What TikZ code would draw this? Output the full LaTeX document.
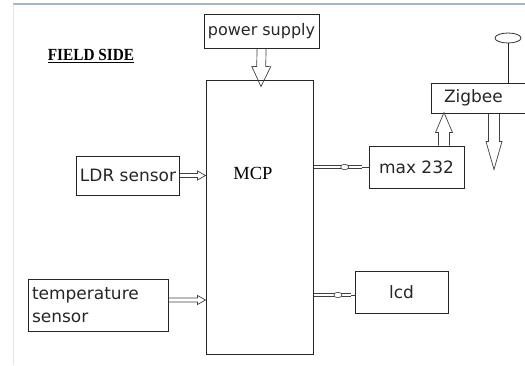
\documentclass[tikz,border=0pt]{standalone}
\usepackage{fontspec}
\newfontfamily\boxfont{DejaVu Sans}
\newfontfamily\mcpfont{Liberation Serif}
\usetikzlibrary{positioning,calc,shapes.geometric}
\definecolor{edge}{RGB}{165,180,200}

% hollow block arrow: start, tip, shaft half width, head half width, head length
\newcommand{\blockarrow}[5]{%
  \coordinate (ba) at ($(#2)!#5!(#1)$);
  \draw[hollow] ($(#1)!#3!90:(#2)$) -- ($(ba)!#3!90:(#2)$) -- ($(ba)!#4!90:(#2)$) -- (#2)
    -- ($(ba)!#4!-90:(#2)$) -- ($(ba)!#3!-90:(#2)$) -- ($(#1)!#3!-90:(#2)$);}

\begin{document}
\begin{tikzpicture}[x=1pt, y=-1pt,
    box/.style={rectangle, draw=black!85, line width=1pt, inner sep=3pt, text=black!85,
      font=\boxfont\fontsize{17}{23}\selectfont},
    hollow/.style={draw=black!75, line width=0.7pt, line join=miter},
    pipe/.style={draw=black!75, double=white, double distance=2pt, line width=0.6pt},
    bulb/.style={ellipse, draw=black!75, line width=0.6pt, fill=white, minimum width=8pt,
      minimum height=5.5pt, inner sep=0pt}
]
    \useasboundingbox (0,0) rectangle (525,365);
    \clip (0,0) rectangle (525,365);
    \draw[edge, line width=1.2pt] (13,4) -- (525,4);
    \draw[black!10, line width=0.8pt] (13,4) -- (13,365);

    \node[box, minimum width=115pt, minimum height=34pt, font=\boxfont\fontsize{16}{20}\selectfont] (ps) at (261.5,31) {power supply};
    \node[box, minimum width=107pt, minimum height=274pt] (mcp) at (259.5,217) {};
    \node[anchor=base, inner sep=0pt, font=\mcpfont\fontsize{18.5}{20}\selectfont] (mcplabel) at (253,179) {MCP};
    \node[anchor=base, inner sep=0pt, font=\mcpfont\bfseries\fontsize{17}{17}\selectfont] (field) at (91,60) {\scalebox{0.9}[1]{FIELD SIDE}};
    \draw[line width=1.4pt] ($(field.base west)+(0,2.5)$) -- ($(field.base east)+(0,2.5)$);

    \node[box, minimum height=30pt, text width=94pt, inner xsep=13pt, align=left] (zig) at (491,98) {Zigbee};
    \node[ellipse, draw=black!80, line width=0.8pt, minimum width=26pt, minimum height=10pt, inner sep=0pt] (ant) at (508,38) {};
    \node[box, minimum width=95pt, minimum height=42pt] (max) at (416.5,167) {max 232};
    \node[box, minimum width=100pt, minimum height=39pt] (ldr) at (128,175.5) {LDR sensor};
    \node[box, minimum height=52pt, text width=132pt, inner xsep=4pt, align=left] (temp) at (98,305) {temperature\\sensor};
    \node[box, minimum width=93pt, minimum height=42pt] (lcd) at (401.5,292) {lcd};

    % antenna
    \draw[line width=0.8pt, black!85] (ant) -- (ant |- zig.north);

    % big arrows
    \coordinate (pstip) at ($(mcp.north)+(1.5,7)$);
    \blockarrow{ps.south}{pstip}{4.5pt}{9.5pt}{20pt}
    \coordinate (maxup) at ($(max.north west)+(75.5,0)$);
    \coordinate (zigin) at ($(zig.south west)+(13.5,-1)$);
    \blockarrow{maxup}{zigin}{5.5pt}{8.5pt}{20pt}
    \coordinate (zigdown) at ($(zig.south west)+(63.5,0)$);
    \coordinate (zigout) at ($(zig.south west)+(63.5,56)$);
    \blockarrow{zigdown}{zigout}{5.5pt}{8pt}{28pt}

    % sensor inputs
    \coordinate (ldrin) at (mcp.west |- ldr.east);
    \blockarrow{ldr.east}{ldrin}{2pt}{4.5pt}{8pt}
    \coordinate (tempout) at ($(temp.east)+(0,-5)$);
    \coordinate (tempin) at (mcp.west |- tempout);
    \blockarrow{tempout}{tempin}{2pt}{4.5pt}{8pt}

    % outputs
    \coordinate (mcpmax) at (mcp.east |- max.west);
    \coordinate (maxpipe) at ($(max.west)+(-7,0)$);
    \draw[pipe] (mcpmax) -- (maxpipe);
    \draw[hollow] (maxpipe) -- (max.west);
    \node[bulb] (maxbulb) at ($(mcpmax)!0.65!(maxpipe)$) {};
    \coordinate (lcdin) at ($(lcd.west)+(0,3)$);
    \coordinate (mcplcd) at (mcp.east |- lcdin);
    \coordinate (lcdpipe) at ($(lcdin)+(-4,0)$);
    \draw[pipe] (mcplcd) -- (lcdpipe);
    \draw[hollow] (lcdpipe) -- (lcdin);
    \node[bulb] (lcdbulb) at ($(mcplcd)!0.66!(lcdpipe)$) {};
\end{tikzpicture}
\end{document}
